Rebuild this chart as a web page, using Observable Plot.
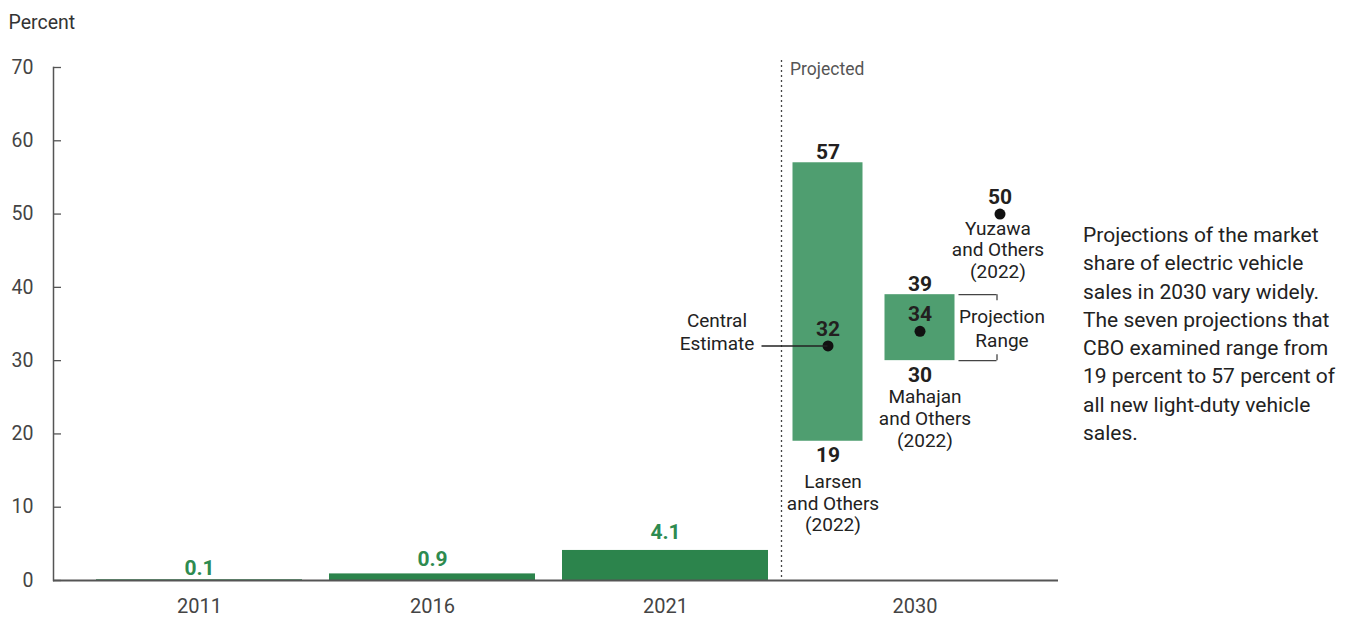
<!DOCTYPE html>
<html><head><meta charset="utf-8">
<script src="https://cdn.jsdelivr.net/npm/d3@7"></script>
<script src="https://cdn.jsdelivr.net/npm/@observablehq/plot@0.6"></script>
<style>
body{margin:0;background:#fff;font-family:Roboto,sans-serif;}
#wrap{position:relative;width:1354px;height:617px;overflow:hidden;}
#note{position:absolute;left:1083px;top:221px;width:268px;font-size:21px;line-height:28.3px;color:#222;white-space:nowrap;}
</style></head><body>
<div id="wrap"><div id="chart"></div><div id="note"></div></div>
<script>
// ---- data ----
const years = ["2011", "2016", "2021", "2030"];
const histYears = ["2011", "2016", "2021"];
const histShare = [0.1, 0.9, 4.1];
const projPeriod = "2030";
const projSources = ["Larsen\nand Others\n(2022)", "Mahajan\nand Others\n(2022)", "Yuzawa\nand Others\n(2022)"];
const projLow = [19, 30, 50];
const projHigh = [57, 39, 50];
const projCentral = [32, 34, 50];
const yTicks = [0, 10, 20, 30, 40, 50, 60, 70];
const yLabel = "Percent";
const projectedLabel = "Projected";
const centralLabel = "Central\nEstimate";
const rangeLabel = "Projection\nRange";
const noteLines = [
  "Projections of the market",
  "share of electric vehicle",
  "sales in 2030 vary widely.",
  "The seven projections that",
  "CBO examined range from",
  "19 percent to 57 percent of",
  "all new light-duty vehicle",
  "sales."
];

// ---- tables ----
const hist = histYears.map((year, i) => ({year, share: histShare[i]}));
const proj = projSources.map((source, i) => ({period: projPeriod, source, low: projLow[i], high: projHigh[i], central: projCentral[i]}));

// ---- styling ----
const BW = 206;
const projDx = [-70.5, 21.5, 101.5];
const srcDx = [5, 5, -2];
const srcDy = [31, 27, 5];
const histDy = [-5, -8, -11];
const projW = 70;
const inset = (BW - projW) / 2;
const bold = {fontWeight: "bold", fontSize: 21, fill: "#231f20"};
const ink = "#222";

const marks = [
  Plot.barY(hist, {x: "year", y: "share", fill: "#2c844c"}),
  Plot.ruleY([0], {stroke: "#555", strokeWidth: 2}),
  Plot.frame({anchor: "left", stroke: "#555", strokeWidth: 1.5}),
  Plot.axisY({ticks: yTicks, tickSize: 0, tickPadding: 20, fontSize: 19.5, fill: "#444", label: null}),
  Plot.axisY({ticks: yTicks, text: null, tickSize: 8, dx: 8, stroke: "#555", strokeWidth: 1.3, label: null}),
  Plot.axisX({ticks: histYears, tickSize: 0, tickPadding: 18, fontSize: 20, fill: "#444", label: null}),
  Plot.axisX({ticks: [projPeriod], tickSize: 0, tickPadding: 18, dx: 16.5, fontSize: 20, fill: "#444", label: null}),
  ...hist.map((d, i) => Plot.text([d], {x: "year", y: "share", text: e => d3.format(".1f")(e.share), dy: histDy[i], lineAnchor: "bottom", fill: "#2e8b50", fontWeight: "bold", fontSize: 21})),
  Plot.ruleX([projPeriod], {x: d => d, dx: -117, insetTop: -7, stroke: "#444", strokeDasharray: "2,3", strokeWidth: 1.3}),
  Plot.text([projectedLabel], {x: () => projPeriod, frameAnchor: "top", textAnchor: "start", lineAnchor: "top", dx: -108.5, dy: -5, fill: "#555", fontSize: 17.5}),
  Plot.text([yLabel], {frameAnchor: "top-left", textAnchor: "start", lineAnchor: "top", dx: -45, dy: -52, fill: "#333", fontSize: 19.5})
];

proj.forEach((d, i) => {
  const dx = projDx[i];
  const hasRange = d.low < d.high;
  if (hasRange) {
    marks.push(Plot.barY([d], {x: "period", y1: "low", y2: "high", fill: "#4f9e70", insetLeft: inset, insetRight: inset, dx}));
    marks.push(Plot.text([d], {x: "period", y: "high", text: e => String(e.high), dx, dy: -4, lineAnchor: "bottom", ...bold}));
    marks.push(Plot.text([d], {x: "period", y: "low", text: e => String(e.low), dx, dy: 6, lineAnchor: "top", ...bold}));
  }
  marks.push(Plot.dot([d], {x: "period", y: "central", r: 5.5, fill: "#111", dx}));
  marks.push(Plot.text([d], {x: "period", y: "central", text: e => String(e.central), dx, dy: -10, lineAnchor: "bottom", ...bold}));
  marks.push(Plot.text([d], {x: "period", y: hasRange ? "low" : "central", text: "source", dx: dx + srcDx[i], dy: srcDy[i], lineAnchor: "top", lineHeight: 1.15, fontSize: 19, fill: ink}));
});

// Central estimate annotation (first projection)
marks.push(Plot.tickY([proj[0]], {x: "period", y: "central", dx: -33.5, insetRight: 140, stroke: ink, strokeWidth: 1.3}));
marks.push(Plot.text([centralLabel], {x: () => projPeriod, y: () => proj[0].central, dx: -181.5, dy: -35, lineAnchor: "top", lineHeight: 1.21, fontSize: 19, fill: ink}));

// Projection range bracket (second projection)
marks.push(Plot.tickY([proj[1].high, proj[1].low], {x: () => projPeriod, y: v => v, dx: 163.5, insetRight: 168, stroke: "#444", strokeWidth: 1.3}));
marks.push(Plot.ruleX([proj[1]], {x: "period", y1: "high", y2: "low", dx: 98.5, insetBottom: 60, stroke: "#444", strokeWidth: 1.3}));
marks.push(Plot.ruleX([proj[1]], {x: "period", y1: "high", y2: "low", dx: 98.5, insetTop: 60, stroke: "#444", strokeWidth: 1.3}));
marks.push(Plot.text([rangeLabel], {x: () => projPeriod, y: () => proj[1].high, dx: 103.5, dy: 11, lineAnchor: "top", lineHeight: 1.26, fontSize: 19, fill: ink}));

const chart = Plot.plot({
  width: 1070,
  height: 617,
  marginLeft: 53,
  marginRight: 12,
  marginTop: 67,
  marginBottom: 37,
  style: {fontFamily: "Roboto, sans-serif", fontSize: "19px", color: "#333", background: "#fff"},
  x: {type: "band", domain: years, range: [95, 1001.4], paddingInner: 0.118, paddingOuter: 0, align: 0.5, axis: null},
  y: {domain: [0, 70], axis: null},
  marks
});
document.getElementById("chart").appendChild(chart);
document.getElementById("note").innerHTML = noteLines.join("<br>");
</script>
</body></html>
